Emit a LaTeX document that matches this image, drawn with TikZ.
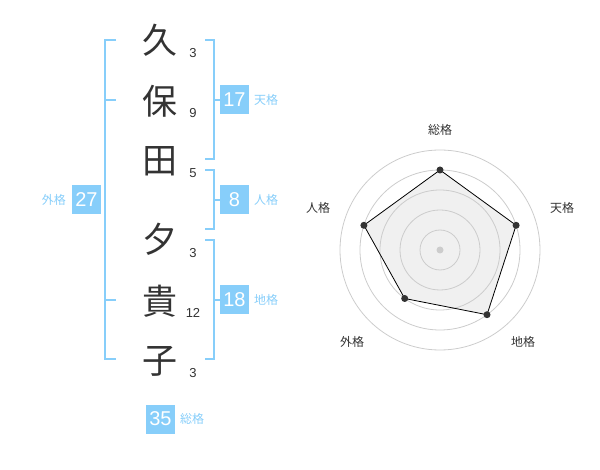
\documentclass[tikz,border=0pt]{standalone}
\usepackage{fontspec}
\newfontfamily\jp{Noto Sans CJK JP}
\newfontfamily\num{Liberation Sans}
\definecolor{kblue}{HTML}{87CEFA}
\definecolor{dgray}{HTML}{333333}
\definecolor{ring}{HTML}{CCCCCC}
\definecolor{polyfill}{HTML}{F0F0F0}
\begin{document}
\begin{tikzpicture}[x=1pt,y=-1pt,
  kanji/.style={font=\jp\fontsize{35}{35}\selectfont, text=dgray, inner sep=0pt},
  stroke/.style={font=\num\fontsize{13}{13}\selectfont, text=dgray, inner sep=0pt},
  bracket/.style={draw=kblue, line width=1.5pt},
  valbox/.style={fill=kblue, text=white, minimum width=29pt, minimum height=29pt, inner sep=0pt, font=\num\fontsize{20}{20}\selectfont},
  kaku/.style={text=kblue, font=\jp\fontsize{12}{12}\selectfont, inner sep=0pt},
  axislbl/.style={text=dgray, font=\jp\fontsize{12}{12}\selectfont, inner sep=0pt},
  dot/.style={circle, fill=dgray, minimum size=7pt, inner sep=0pt}]
\useasboundingbox (0,0) rectangle (600,470);
% characters
\node[kanji] (c1) at (160,40) {久};
\node[kanji] (c2) at (160,101) {保};
\node[kanji] (c3) at (160,161) {田};
\node[kanji] (c4) at (160,239) {夕};
\node[kanji] (c5) at (160,301) {貴};
\node[kanji] (c6) at (160,361) {子};
\node[stroke] (s1) at (193,53) {3};
\node[stroke] (s2) at (193,113) {9};
\node[stroke] (s3) at (193,173) {5};
\node[stroke] (s4) at (193,253) {3};
\node[stroke] (s5) at (193,313) {12};
\node[stroke] (s6) at (193,373) {3};
% brackets
\draw[bracket] (116,40) -- (105,40) -- (105,359) -- (116,359);
\draw[bracket] (105,100) -- (116,100);
\draw[bracket] (105,300) -- (116,300);
\draw[bracket] (205,40) -- (214,40) -- (214,159) -- (205,159);
\draw[bracket] (214,100) -- (220,100);
\draw[bracket] (205,170) -- (214,170) -- (214,229) -- (205,229);
\draw[bracket] (214,200) -- (220,200);
\draw[bracket] (205,240) -- (214,240) -- (214,359) -- (205,359);
\draw[bracket] (214,300) -- (220,300);
% value boxes
\node[valbox] (b17) at (234.5,100) {17};
\node[kaku, anchor=west] (k17) at (254,100) {天格};
\node[valbox] (b8) at (234.5,200) {8};
\node[kaku, anchor=west] (k8) at (254,200) {人格};
\node[valbox] (b18) at (234.5,300) {18};
\node[kaku, anchor=west] (k18) at (254,300) {地格};
\node[valbox] (b27) at (86.5,200) {27};
\node[kaku, anchor=east] (k27) at (66,200) {外格};
\node[valbox] (b35) at (160.5,419) {35};
\node[kaku, anchor=west] (k35) at (180,419) {総格};
% radar chart
\coordinate (O) at (440,250);
\path (O) ++(0,-80) coordinate (pa);
\path (O) ++(76.1,-24.7) coordinate (pb);
\path (O) ++(47.0,64.7) coordinate (pc);
\path (O) ++(-35.3,48.5) coordinate (pd);
\path (O) ++(-76.1,-24.7) coordinate (pe);
\fill[polyfill] (pa) -- (pb) -- (pc) -- (pd) -- (pe) -- cycle;
\foreach \r in {20,40,60,80,100} \draw[ring, line width=0.8pt] (O) circle (\r);
\draw[black, line width=0.8pt] (pa) -- (pb) -- (pc) -- (pd) -- (pe) -- cycle;
\node[circle, fill=ring, minimum size=7pt, inner sep=0pt] (ctr) at (O) {};
\node[dot] (da) at (pa) {};
\node[dot] (db) at (pb) {};
\node[dot] (dc) at (pc) {};
\node[dot] (dd) at (pd) {};
\node[dot] (de) at (pe) {};
\node[axislbl] (la) at (440,130) {総格};
\node[axislbl] (lb) at (562,208) {天格};
\node[axislbl] (lc) at (523,342) {地格};
\node[axislbl] (ld) at (352,342) {外格};
\node[axislbl] (le) at (318,208) {人格};
\end{tikzpicture}
\end{document}
